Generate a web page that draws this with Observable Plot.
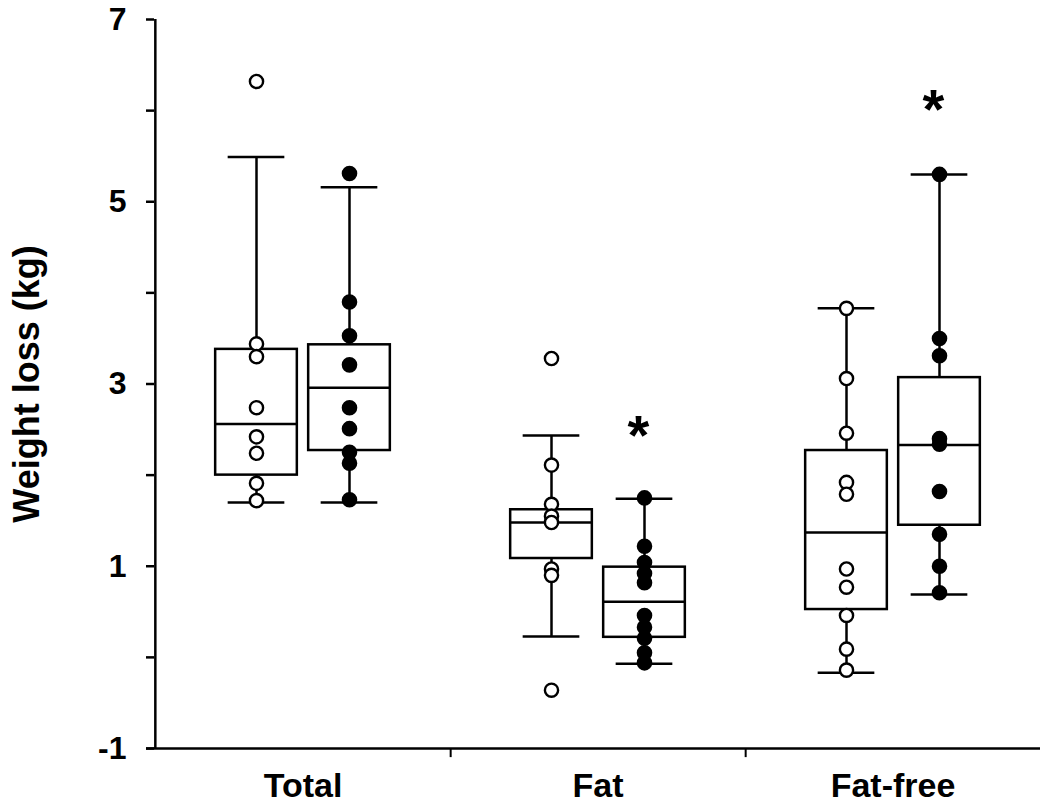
<!DOCTYPE html>
<html>
<head>
<meta charset="utf-8">
<script src="https://cdn.jsdelivr.net/npm/d3@7"></script>
<script src="https://cdn.jsdelivr.net/npm/@observablehq/plot@0.6"></script>
<style>
  html, body { margin: 0; padding: 0; background: #fff; }
  #chart svg { display: block; }
</style>
</head>
<body>
<div id="chart"></div>
<script>
// ---- data ----
const categories = ["Total", "Fat", "Fat-free"];

// individual values, open circles (group A)
const totalOpen = [6.32, 3.44, 3.30, 2.74, 2.42, 2.24, 1.91, 1.72];
const fatOpen   = [3.28, 2.11, 1.68, 1.55, 1.48, 0.97, 0.90, -0.36];
const freeOpen  = [3.83, 3.06, 2.46, 1.92, 1.79, 0.97, 0.77, 0.46, 0.09, -0.14];

// individual values, filled circles (group B)
const totalFilled = [5.31, 3.90, 3.53, 3.21, 2.74, 2.51, 2.25, 2.13, 1.73];
const fatFilled   = [1.75, 1.22, 1.04, 0.92, 0.82, 0.46, 0.33, 0.21, 0.05, -0.06];
const freeFilled  = [5.30, 3.50, 3.31, 2.40, 2.34, 1.82, 1.35, 1.00, 0.71];

// box statistics per category (Total, Fat, Fat-free)
const openLow    = [1.70, 0.23, -0.17];
const openQ1     = [2.00, 1.085, 0.525];
const openMedian = [2.56, 1.48, 1.37];
const openQ3     = [3.38, 1.62, 2.27];
const openHigh   = [5.49, 2.435, 3.83];

const filledLow    = [1.70, -0.07, 0.69];
const filledQ1     = [2.27, 0.22, 1.45];
const filledMedian = [2.96, 0.61, 2.33];
const filledQ3     = [3.43, 0.99, 3.07];
const filledHigh   = [5.16, 1.74, 5.30];

// significance markers (placed above the filled group)
const starCategories = ["Fat", "Fat-free"];
const starValues = [2.52, 6.09];

const yTicks = [-1, 0, 1, 2, 3, 4, 5, 6, 7];

// ---- tables ----
const statsTable = (low, q1, med, q3, high) =>
  categories.map((c, i) => ({category: c, low: low[i], q1: q1[i], median: med[i], q3: q3[i], high: high[i]}));
const pointTable = (lists) =>
  lists.flatMap((vals, i) => vals.map(v => ({category: categories[i], value: v})));

const openStats = statsTable(openLow, openQ1, openMedian, openQ3, openHigh);
const filledStats = statsTable(filledLow, filledQ1, filledMedian, filledQ3, filledHigh);
const openPoints = pointTable([totalOpen, fatOpen, freeOpen]);
const filledPoints = pointTable([totalFilled, fatFilled, freeFilled]);
const stars = starCategories.map((c, i) => ({category: c, value: starValues[i]}));

// ---- layout ----
const W = 1050, H = 805;
const mL = 154, mR = 10, mT = 19, mB = 57;
const bw = (W - mL - mR) / categories.length;
const off = 46.5;      // group offset from band centre
const boxHalf = 41;    // half box width
const capHalf = 28.5;  // half whisker-cap width
const SW = 2.5;

function groupMarks(stats, points, sign, fill) {
  const c = bw / 2 + sign * off;
  return [
    Plot.ruleX(stats, {x: "category", y1: "low", y2: "high", dx: sign * off, stroke: "black", strokeWidth: SW}),
    Plot.tickY(stats, {x: "category", y: "low", insetLeft: c - capHalf, insetRight: bw - c - capHalf, stroke: "black", strokeWidth: SW}),
    Plot.tickY(stats, {x: "category", y: "high", insetLeft: c - capHalf, insetRight: bw - c - capHalf, stroke: "black", strokeWidth: SW}),
    Plot.barY(stats, {x: "category", y1: "q1", y2: "q3", insetLeft: c - boxHalf, insetRight: bw - c - boxHalf, fill: "white", stroke: "black", strokeWidth: SW}),
    Plot.tickY(stats, {x: "category", y: "median", insetLeft: c - boxHalf, insetRight: bw - c - boxHalf, stroke: "black", strokeWidth: SW}),
    Plot.dot(points, {x: "category", y: "value", dx: sign * off, r: 6.6, fill, stroke: "black", strokeWidth: 2.4})
  ];
}

const chart = Plot.plot({
  width: W,
  height: H,
  marginLeft: mL,
  marginRight: mR,
  marginTop: mT,
  marginBottom: mB,
  style: {fontFamily: "'Liberation Sans', Arial, sans-serif", background: "white", color: "black"},
  x: {type: "band", domain: categories, padding: 0, axis: null},
  y: {domain: [-1, 7], axis: null},
  marks: [
    ...groupMarks(openStats, openPoints, -1, "white"),
    ...groupMarks(filledStats, filledPoints, 1, "black"),
    // axes
    Plot.axisY({ticks: yTicks, tickSize: 8, tickPadding: 20, strokeWidth: SW,
      tickFormat: d => (d % 2 ? String(d) : ""), fontSize: 32, fontWeight: "bold", label: null}),
    Plot.axisX({tickSize: 0, tickPadding: 24, fontSize: 34, fontWeight: "bold", label: null}),
    Plot.ruleX(categories.slice(0, -1), {x: d => d, y1: -1, y2: -1.1, dx: bw / 2, stroke: "black", strokeWidth: 2}),
    Plot.ruleY([-1], {insetLeft: -8, stroke: "black", strokeWidth: SW}),
    Plot.ruleX([categories[0]], {x: d => d, y1: -1, y2: 7, dx: -bw / 2, stroke: "black", strokeWidth: SW}),
    Plot.text(["Weight loss (kg)"], {frameAnchor: "left", textAnchor: "middle", dx: -127, rotate: -90, fontSize: 36, fontWeight: "bold"}),
    Plot.text(stars, {x: "category", y: "value", text: () => "*", dx: off - 6, dy: 8, fontSize: 56, fontWeight: "bold"})
  ]
});

document.getElementById("chart").append(chart);
</script>
</body>
</html>
